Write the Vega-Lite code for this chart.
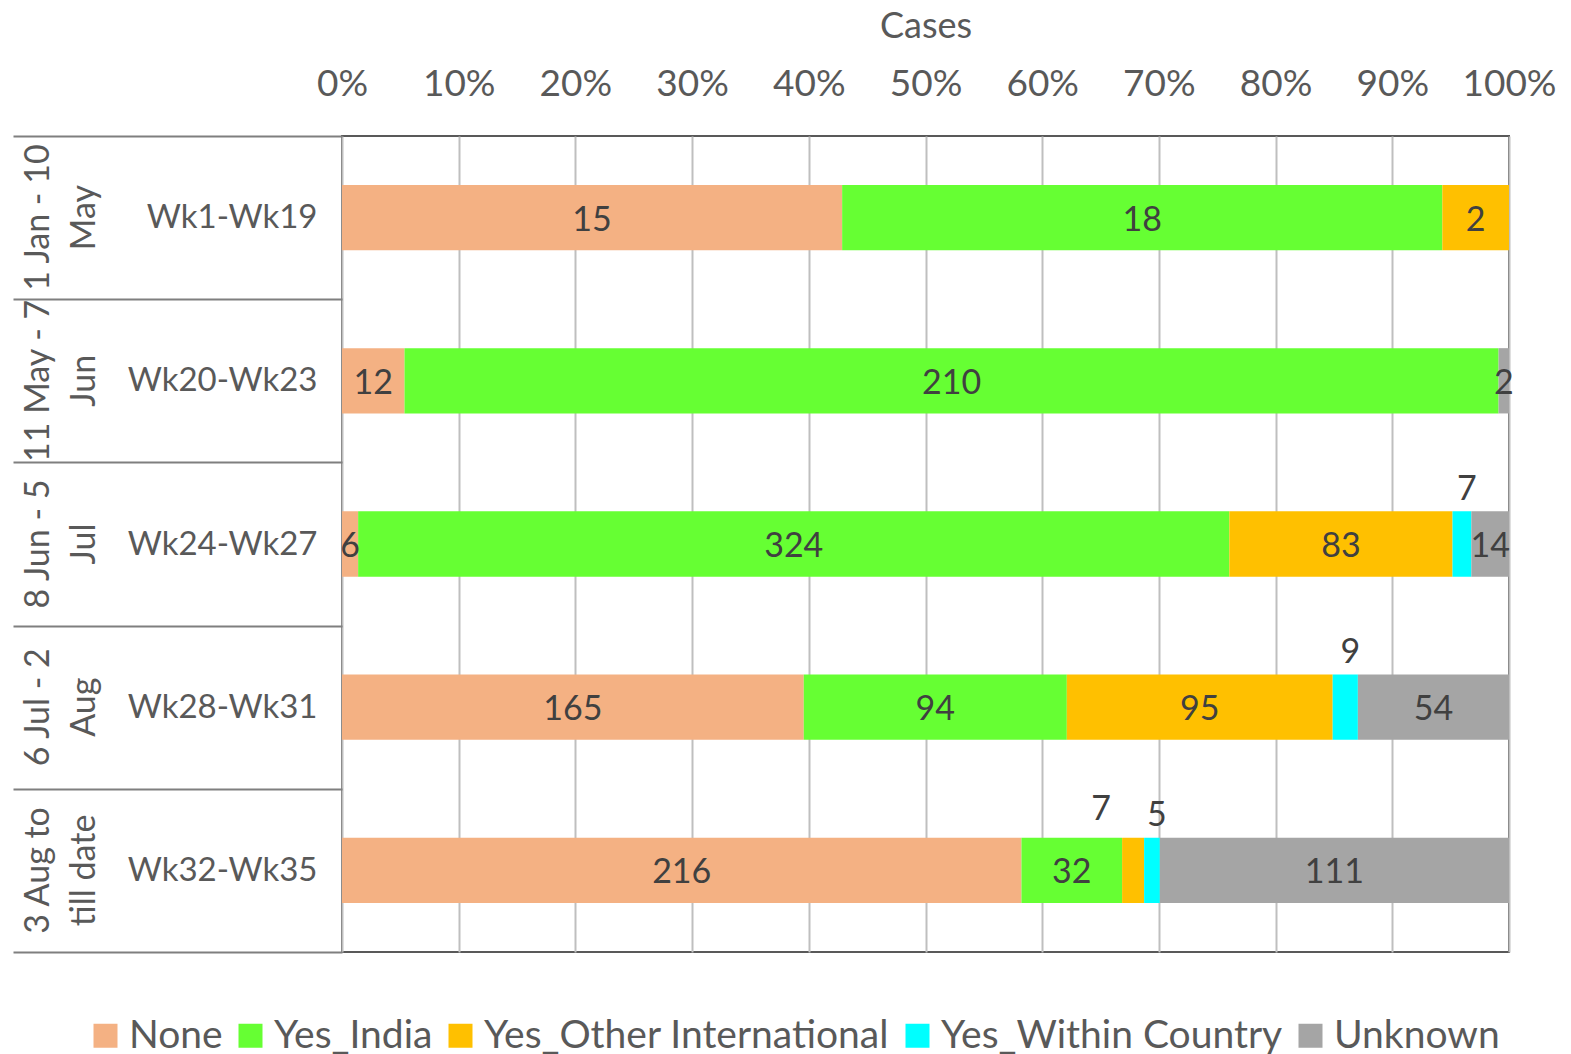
{
  "$schema": "https://vega.github.io/schema/vega-lite/v6.json",
  "width": 1167,
  "height": 816,
  "padding": {"left": 12, "top": 8, "right": 10, "bottom": 5},
  "background": "white",
  "config": {"font": "Lato", "view": {"stroke": "#595959", "strokeWidth": 2}},
  "data": {"values": [
    {"week": "Wk1-Wk19", "group": "1 Jan - 10 May", "status": "None", "k": 1, "count": 15},
    {"week": "Wk1-Wk19", "group": "1 Jan - 10 May", "status": "Yes_India", "k": 2, "count": 18},
    {"week": "Wk1-Wk19", "group": "1 Jan - 10 May", "status": "Yes_Other International", "k": 3, "count": 2},
    {"week": "Wk20-Wk23", "group": "11 May - 7 Jun", "status": "None", "k": 1, "count": 12},
    {"week": "Wk20-Wk23", "group": "11 May - 7 Jun", "status": "Yes_India", "k": 2, "count": 210},
    {"week": "Wk20-Wk23", "group": "11 May - 7 Jun", "status": "Unknown", "k": 5, "count": 2},
    {"week": "Wk24-Wk27", "group": "8 Jun - 5 Jul", "status": "None", "k": 1, "count": 6},
    {"week": "Wk24-Wk27", "group": "8 Jun - 5 Jul", "status": "Yes_India", "k": 2, "count": 324},
    {"week": "Wk24-Wk27", "group": "8 Jun - 5 Jul", "status": "Yes_Other International", "k": 3, "count": 83},
    {"week": "Wk24-Wk27", "group": "8 Jun - 5 Jul", "status": "Yes_Within Country", "k": 4, "count": 7},
    {"week": "Wk24-Wk27", "group": "8 Jun - 5 Jul", "status": "Unknown", "k": 5, "count": 14},
    {"week": "Wk28-Wk31", "group": "6 Jul - 2 Aug", "status": "None", "k": 1, "count": 165},
    {"week": "Wk28-Wk31", "group": "6 Jul - 2 Aug", "status": "Yes_India", "k": 2, "count": 94},
    {"week": "Wk28-Wk31", "group": "6 Jul - 2 Aug", "status": "Yes_Other International", "k": 3, "count": 95},
    {"week": "Wk28-Wk31", "group": "6 Jul - 2 Aug", "status": "Yes_Within Country", "k": 4, "count": 9},
    {"week": "Wk28-Wk31", "group": "6 Jul - 2 Aug", "status": "Unknown", "k": 5, "count": 54},
    {"week": "Wk32-Wk35", "group": "3 Aug to till date", "status": "None", "k": 1, "count": 216},
    {"week": "Wk32-Wk35", "group": "3 Aug to till date", "status": "Yes_India", "k": 2, "count": 32},
    {"week": "Wk32-Wk35", "group": "3 Aug to till date", "status": "Yes_Other International", "k": 3, "count": 7},
    {"week": "Wk32-Wk35", "group": "3 Aug to till date", "status": "Yes_Within Country", "k": 4, "count": 5},
    {"week": "Wk32-Wk35", "group": "3 Aug to till date", "status": "Unknown", "k": 5, "count": 111}
  ]},
  "layer": [
    {
      "mark": {"type": "bar", "height": {"band": 0.4}},
      "encoding": {
        "y": {
          "field": "week", "type": "nominal",
          "sort": ["Wk1-Wk19", "Wk20-Wk23", "Wk24-Wk27", "Wk28-Wk31", "Wk32-Wk35"],
          "scale": {"type": "band", "paddingInner": 0, "paddingOuter": 0},
          "axis": {
            "title": null, "orient": "left", "domain": false, "grid": false,
            "ticks": true, "tickBand": "extent", "tickSize": 329, "tickColor": "#7F7F7F", "tickWidth": 2,
            "labelPadding": -304, "labelFontSize": 33, "labelColor": "#595959",
            "labelAlign": "right", "labelBaseline": "middle", "labelLimit": 400, "labelOverlap": false
          }
        },
        "x": {
          "field": "count", "type": "quantitative", "stack": "normalize", "title": "Cases",
          "scale": {"domain": [0, 1], "nice": false},
          "axis": {
            "orient": "top", "title": "Cases", "titleFontSize": 36, "titleColor": "#595959",
            "titleFontWeight": "normal", "titlePadding": 20,
            "format": ".0%", "values": [0, 0.1, 0.2, 0.3, 0.4, 0.5, 0.6, 0.7, 0.8, 0.9, 1],
            "labelFontSize": 37, "labelColor": "#595959", "labelPadding": 33,
            "ticks": false, "domain": false, "grid": true, "gridColor": "#BFBFBF", "gridWidth": 2,
            "labelFlush": false
          }
        },
        "color": {
          "field": "status", "type": "nominal",
          "scale": {
            "domain": ["None", "Yes_India", "Yes_Other International", "Yes_Within Country", "Unknown"],
            "range": ["#F4B183", "#66FF33", "#FFC000", "#00FFFF", "#A5A5A5"]
          },
          "legend": {
            "orient": "none", "legendX": -256, "legendY": 880, "direction": "horizontal",
            "title": null, "symbolType": "square", "symbolSize": 576, "symbolStrokeWidth": 0,
            "labelFontSize": 39, "labelColor": "#595959", "labelOffset": 4, "columnPadding": 8,
            "labelLimit": 600, "padding": 0
          }
        },
        "order": {"field": "k", "type": "quantitative"}
      }
    },
    {
      "mark": {"type": "text", "fontSize": 34, "color": "#404040", "baseline": "middle", "dy": 3},
      "encoding": {
        "y": {
          "field": "group", "type": "nominal",
          "sort": ["1 Jan - 10 May", "11 May - 7 Jun", "8 Jun - 5 Jul", "6 Jul - 2 Aug", "3 Aug to till date"],
          "scale": {"type": "band", "paddingInner": 0, "paddingOuter": 0},
          "axis": {
            "title": null, "orient": "left", "domain": false, "ticks": false, "grid": false,
            "labelAngle": 270, "labelAlign": "center", "labelBaseline": "middle",
            "labelPadding": 304, "labelFontSize": 34, "labelColor": "#595959", "labelLineHeight": 46,
            "labelLimit": 400, "labelOverlap": false,
            "labelExpr": "datum.label == '3 Aug to till date' ? ['3 Aug to', 'till date'] : [slice(datum.label, 0, lastindexof(datum.label, ' ')), slice(datum.label, lastindexof(datum.label, ' ') + 1)]"
          }
        },
        "x": {"field": "count", "type": "quantitative", "stack": "normalize", "bandPosition": 0.5, "title": "Cases"},
        "detail": {"field": "status"},
        "order": {"field": "k", "type": "quantitative"},
        "text": {"field": "count", "type": "quantitative"},
        "opacity": {
          "condition": {"test": "datum.status === 'Yes_Within Country' || (datum.week === 'Wk32-Wk35' && datum.status === 'Yes_Other International')", "value": 0},
          "value": 1
        }
      }
    },
    {
      "mark": {"type": "text", "fontSize": 34, "color": "#404040", "baseline": "middle", "dy": -54, "dx": 5},
      "encoding": {
        "y": {
          "field": "group", "type": "nominal",
          "sort": ["1 Jan - 10 May", "11 May - 7 Jun", "8 Jun - 5 Jul", "6 Jul - 2 Aug", "3 Aug to till date"],
          "scale": {"type": "band", "paddingInner": 0, "paddingOuter": 0},
          "axis": null
        },
        "x": {"field": "count", "type": "quantitative", "stack": "normalize", "bandPosition": 0.5, "title": "Cases"},
        "detail": {"field": "status"},
        "order": {"field": "k", "type": "quantitative"},
        "text": {"field": "count", "type": "quantitative"},
        "opacity": {
          "condition": {"test": "datum.status === 'Yes_Within Country'", "value": 1},
          "value": 0
        }
      }
    },
    {
      "mark": {"type": "text", "fontSize": 34, "color": "#404040", "baseline": "middle", "dy": -60, "dx": -32},
      "encoding": {
        "y": {
          "field": "group", "type": "nominal",
          "sort": ["1 Jan - 10 May", "11 May - 7 Jun", "8 Jun - 5 Jul", "6 Jul - 2 Aug", "3 Aug to till date"],
          "scale": {"type": "band", "paddingInner": 0, "paddingOuter": 0},
          "axis": null
        },
        "x": {"field": "count", "type": "quantitative", "stack": "normalize", "bandPosition": 0.5, "title": "Cases"},
        "detail": {"field": "status"},
        "order": {"field": "k", "type": "quantitative"},
        "text": {"field": "count", "type": "quantitative"},
        "opacity": {
          "condition": {"test": "datum.week === 'Wk32-Wk35' && datum.status === 'Yes_Other International'", "value": 1},
          "value": 0
        }
      }
    }
  ],
  "resolve": {"scale": {"y": "independent"}}
}
